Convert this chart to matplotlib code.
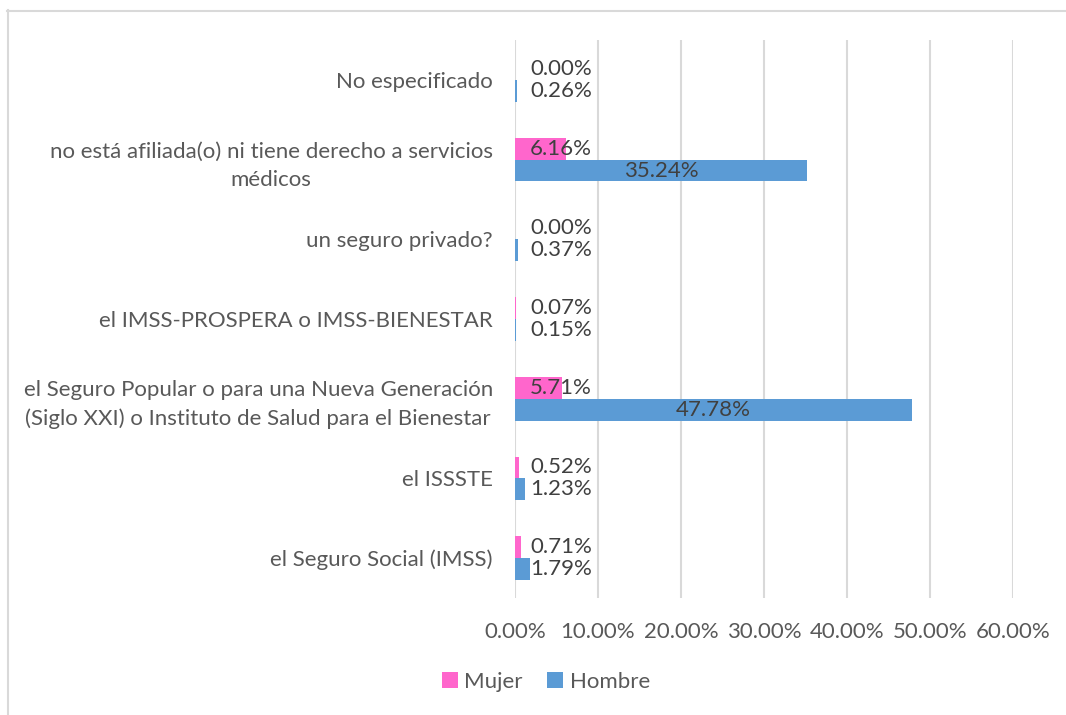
import matplotlib
matplotlib.use("Agg")
import matplotlib.pyplot as plt
from matplotlib.patches import Patch
from matplotlib.lines import Line2D
import numpy as np

categories = [
    "el Seguro Social (IMSS)",
    "el ISSSTE",
    "el Seguro Popular o para una Nueva Generación\n(Siglo XXI) o Instituto de Salud para el Bienestar",
    "el IMSS-PROSPERA o IMSS-BIENESTAR",
    "un seguro privado?",
    "no está afiliada(o) ni tiene derecho a servicios\nmédicos",
    "No especificado",
]
mujer = [0.71, 0.52, 5.71, 0.07, 0.00, 6.16, 0.00]
hombre = [1.79, 1.23, 47.78, 0.15, 0.37, 35.24, 0.26]
xticks = [0, 10, 20, 30, 40, 50, 60]

PINK = "#FF66CC"
BLUE = "#5B9BD5"
GRID = "#D9D9D9"
TXT = "#595959"
LBL = "#404040"
FONT = "Lato"

plt.rcParams["font.family"] = [FONT, "DejaVu Sans"]

W, H = 1066, 715
fig = plt.figure(figsize=(W / 100, H / 100), dpi=100)
fig.patch.set_facecolor("white")

ax = fig.add_axes([515 / W, 1 - 598 / H, (1013 - 515) / W, (598 - 40) / H])

y = np.arange(len(categories))
bh = 0.275
ax.barh(y + bh / 2, mujer, height=bh, color=PINK, label="Mujer", zorder=3)
ax.barh(y - bh / 2, hombre, height=bh, color=BLUE, label="Hombre", zorder=3)

ax.set_xlim(0, 60)
ax.set_ylim(-0.5, len(categories) - 0.5)
ax.set_xticks(xticks)
ax.set_xticklabels([f"{t:.2f}%" for t in xticks], color=TXT, fontsize=16)
ax.set_yticks(y)
ax.set_yticklabels(categories, color=TXT, fontsize=16, multialignment="center", linespacing=1.5)
ax.tick_params(axis="both", length=0)
ax.tick_params(axis="y", pad=16)
ax.tick_params(axis="x", pad=17)
ax.grid(axis="x", color=GRID, linewidth=1.5, zorder=0)
for s in ax.spines.values():
    s.set_visible(False)

lab_x = 1.8
for i in range(len(categories)):
    for val, yy in ((mujer[i], y[i] + bh / 2), (hombre[i], y[i] - bh / 2)):
        if val > 20:
            ax.text(val / 2, yy, f"{val:.2f}%", ha="center", va="center",
                    color=LBL, fontsize=16, zorder=4)
        else:
            ax.text(lab_x, yy, f"{val:.2f}%", ha="left", va="center",
                    color=LBL, fontsize=16, zorder=4)

handles = [Patch(facecolor=PINK, label="Mujer"), Patch(facecolor=BLUE, label="Hombre")]
leg = fig.legend(handles=handles, loc="center", bbox_to_anchor=(546 / W, 1 - 682 / H),
                 ncol=2, frameon=False, fontsize=16, handlelength=0.7, handleheight=0.7,
                 handletextpad=0.3, columnspacing=1.1)
for t in leg.get_texts():
    t.set_color(TXT)

# outer frame (left and top edges visible)
fig.add_artist(Line2D([7.5 / W, 7.5 / W], [0, 1 - 10 / H], color=GRID, linewidth=1.5,
                      transform=fig.transFigure))
fig.add_artist(Line2D([7 / W, 1], [1 - 10.5 / H, 1 - 10.5 / H], color=GRID, linewidth=1.5,
                      transform=fig.transFigure))

fig.savefig("out.png", dpi=100, facecolor="white")
